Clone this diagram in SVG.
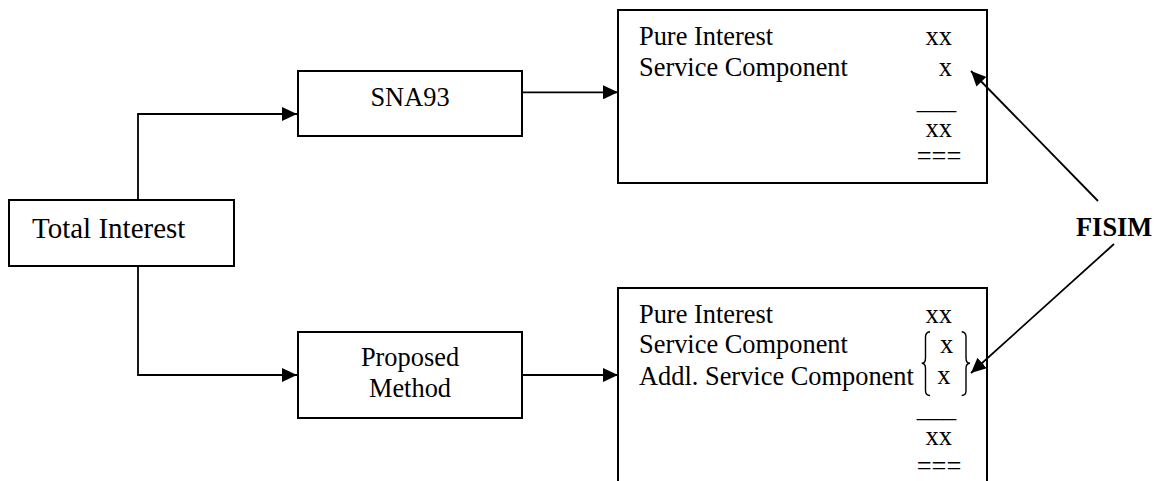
<svg xmlns="http://www.w3.org/2000/svg" width="1159" height="481" viewBox="0 0 1159 481">
<style>
  .box { fill: #ffffff; stroke: #000000; stroke-width: 2; }
  .t { font-family: "Liberation Serif", "Times New Roman", serif; font-size: 26.4px; fill: #000000; }
  .c { text-anchor: middle; }
  .e { text-anchor: end; }
  .b { font-weight: bold; }
  .conn { fill: none; stroke: #000000; stroke-width: 1.8; }
  .brace { fill: none; stroke: #000000; stroke-width: 1.4; }
</style>
<defs>
  <marker id="arrow" viewBox="0 0 15 14" refX="15" refY="7" markerWidth="15" markerHeight="14" markerUnits="userSpaceOnUse" orient="auto">
    <path d="M0,0 L15,7 L0,14 z" fill="#000000"/>
  </marker>
</defs>
<rect width="1159" height="481" fill="#ffffff"/>

<g id="total-interest">
  <rect class="box" x="9" y="200" width="225" height="66"/>
  <text class="t" x="32" y="238" style="font-size:29px">Total Interest</text>
</g>

<g id="sna93">
  <rect class="box" x="298" y="71" width="224" height="65"/>
  <text class="t c" x="410" y="105.7">SNA93</text>
</g>

<g id="proposed-method">
  <rect class="box" x="298" y="332" width="224" height="86"/>
  <text class="t c" x="410" y="366">Proposed</text>
  <text class="t c" x="410" y="397">Method</text>
</g>

<g id="sna93-result">
  <rect class="box" x="618" y="10" width="369" height="173"/>
  <text class="t" x="639" y="45">Pure Interest</text>
  <text class="t e" x="952" y="45">xx</text>
  <text class="t" x="639" y="76">Service Component</text>
  <text class="t e" x="952" y="76">x</text>
  <text class="t" x="916.7" y="109">___</text>
  <text class="t e" x="952" y="136.7">xx</text>
  <text class="t" x="916.7" y="165">===</text>
</g>

<g id="proposed-result">
  <rect class="box" x="618" y="288" width="369" height="220"/>
  <text class="t" x="639" y="322.7">Pure Interest</text>
  <text class="t e" x="952" y="322.7">xx</text>
  <text class="t" x="639" y="353.3">Service Component</text>
  <text class="t" x="940" y="353.3">x</text>
  <text class="t" x="639" y="384.5">Addl. Service Component</text>
  <text class="t" x="937.3" y="384">x</text>
  <path class="brace" d="M930,331.7 Q925.5,332 925.5,337 V358 Q925.5,363.3 921.7,363.3 Q925.5,363.3 925.5,368.5 V390.5 Q925.5,395.5 930,395.5"/>
  <path class="brace" d="M961.7,331.7 Q966,332 966,337 V358 Q966,363.3 970,363.3 Q966,363.3 966,368.5 V390.5 Q966,395.5 961.7,395.5"/>
  <text class="t" x="916.7" y="417">___</text>
  <text class="t e" x="952" y="445">xx</text>
  <text class="t" x="916.7" y="474.5">===</text>
</g>

<g id="fisim">
  <text class="t b" x="1076" y="236">FISIM</text>
</g>

<g id="connectors">
  <path class="conn" d="M138,200 V114 H297" marker-end="url(#arrow)"/>
  <path class="conn" d="M138,266 V375 H297" marker-end="url(#arrow)"/>
  <path class="conn" d="M522,92.3 H618" marker-end="url(#arrow)"/>
  <path class="conn" d="M522,375 H618" marker-end="url(#arrow)"/>
  <path class="conn" d="M1098,201 L971,71" marker-end="url(#arrow)"/>
  <path class="conn" d="M1114,244 L971,373" marker-end="url(#arrow)"/>
</g>
</svg>
